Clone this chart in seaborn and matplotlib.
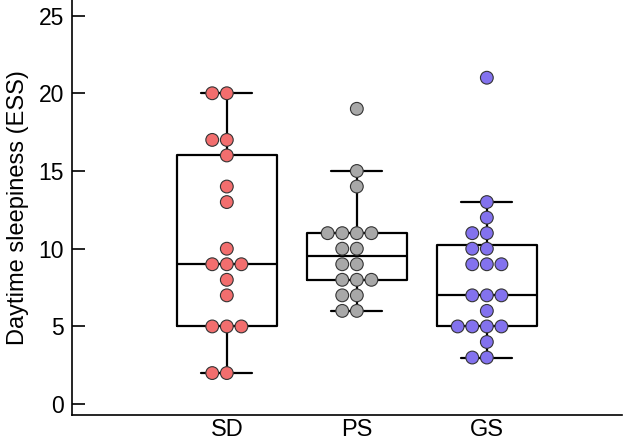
import numpy as np
import pandas as pd
import matplotlib
matplotlib.use('Agg')
import matplotlib.pyplot as plt
import seaborn as sns

groups = ['SD', 'PS', 'GS']
sd_ess = [20, 20, 17, 17, 16, 14, 13, 10, 9, 9, 9, 8, 7, 5, 5, 5, 2, 2]
ps_ess = [19, 15, 14, 11, 11, 11, 11, 10, 10, 9, 9, 8, 8, 8, 7, 7, 6, 6]
gs_ess = [21, 13, 12, 11, 11, 10, 10, 9, 9, 9, 7, 7, 7, 6, 5, 5, 5, 5, 4, 3, 3]
colors = ['#F26E6E', '#A8A8A8', '#8372EE']

df = pd.DataFrame({
    'group': ['SD'] * len(sd_ess) + ['PS'] * len(ps_ess) + ['GS'] * len(gs_ess),
    'ess': sd_ess + ps_ess + gs_ess,
})

sns.set_style('ticks')
plt.rcParams['font.family'] = ['Liberation Sans', 'DejaVu Sans']

fig = plt.figure(figsize=(6.38, 4.42), dpi=100)
ax = fig.add_axes([0.113, 0.061, 0.862, 0.939])

# box stats (Tukey whiskers, hazen quartiles)
stats = []
for g in groups:
    v = np.array(df.loc[df.group == g, 'ess'], dtype=float)
    q1, med, q3 = np.percentile(v, [25, 50, 75], method='hazen')
    iqr = q3 - q1
    lo = v[v >= q1 - 1.5 * iqr].min()
    hi = v[v <= q3 + 1.5 * iqr].max()
    stats.append({'med': med, 'q1': q1, 'q3': q3, 'whislo': lo, 'whishi': hi,
                  'fliers': [], 'label': g})

line = dict(color='black', linewidth=1.6)
ax.bxp(stats, positions=range(len(groups)), widths=0.77, showfliers=False,
       boxprops=line, whiskerprops=line, capprops=line, medianprops=line,
       capwidths=0.39, manage_ticks=False, zorder=1)

sns.swarmplot(data=df, x='group', y='ess', hue='group', order=groups,
              palette=colors, size=9.2, edgecolor='#333333', linewidth=0.8,
              legend=False, ax=ax, zorder=3)

ax.set_xlim(-1.19, 3.04)
ax.set_ylim(-0.7, 26)
ax.set_yticks([0, 5, 10, 15, 20, 25])
ax.set_xticks(range(len(groups)))
ax.set_xticklabels(groups)
ax.set_xlabel('')
ax.set_ylabel('Daytime sleepiness (ESS)', fontsize=17, labelpad=7, color='black')
ax.tick_params(axis='y', direction='in', length=9, width=1.2, pad=6,
               labelsize=16.5, colors='black')
ax.tick_params(axis='x', length=0, pad=3, labelsize=17, colors='black')
for s in ['top', 'right']:
    ax.spines[s].set_visible(False)
for s in ['left', 'bottom']:
    ax.spines[s].set_linewidth(1.2)
    ax.spines[s].set_color('black')

fig.savefig('out.png', dpi=100)
